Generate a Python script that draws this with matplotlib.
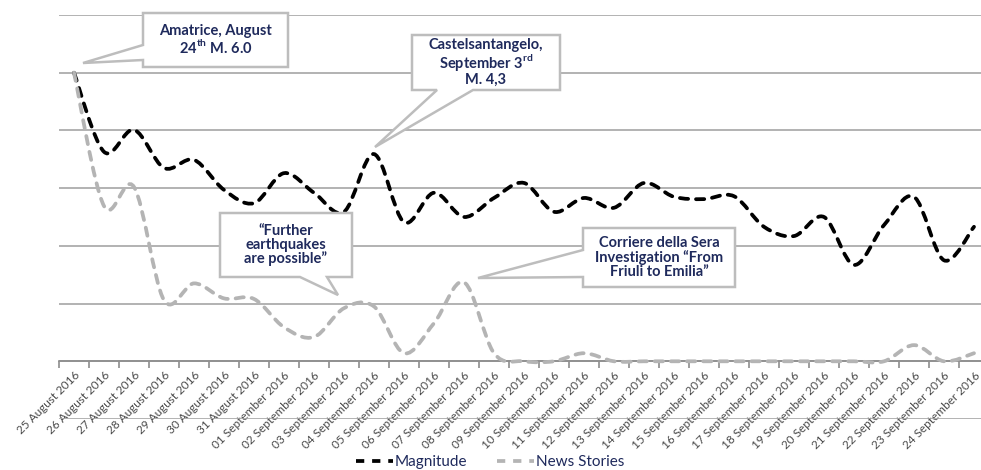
import numpy as np
import matplotlib
matplotlib.use('Agg')
import matplotlib.pyplot as plt
from matplotlib.path import Path
from matplotlib.patches import PathPatch, Polygon
from matplotlib.lines import Line2D

plt.rcParams['font.family'] = ['Lato', 'DejaVu Sans']
plt.rcParams['mathtext.fontset'] = 'custom'
plt.rcParams['mathtext.rm'] = 'Lato'
plt.rcParams['mathtext.bf'] = 'Lato:bold'

# Datos
fechas = (['%d August 2016' % d for d in range(25, 32)] +
          ['%02d September 2016' % d for d in range(1, 25)])

magnitude = [5.00, 3.63, 4.01, 3.35, 3.49, 2.97, 2.74, 3.26, 2.92, 2.59,
             3.59, 2.41, 2.92, 2.50, 2.83, 3.09, 2.59, 2.83, 2.66, 3.09,
             2.85, 2.81, 2.86, 2.33, 2.17, 2.50, 1.67, 2.36, 2.85, 1.75,
             2.33]

news = [5.00, 2.69, 3.02, 1.06, 1.35, 1.09, 1.08, 0.59, 0.42, 0.92,
        0.95, 0.14, 0.66, 1.37, 0.14, 0.00, 0.00, 0.14, 0.00, 0.00,
        0.00, 0.00, 0.00, 0.00, 0.00, 0.00, 0.00, 0.00, 0.28, 0.00,
        0.14]

W, H = 981, 470
fig = plt.figure(figsize=(W / 100, H / 100), dpi=100)
ax = fig.add_axes([59 / W, 51 / H, 930 / W, 404 / H])

n = len(fechas)
x = np.arange(n)


def suave(xs, ys):
    # curva suavizada tipo Excel (bezier con tension 1/6)
    pts = np.column_stack([xs, ys]).astype(float)
    verts = [pts[0]]
    codes = [Path.MOVETO]
    for i in range(len(pts) - 1):
        p0 = pts[i - 1] if i > 0 else pts[i]
        p1 = pts[i]
        p2 = pts[i + 1]
        p3 = pts[i + 2] if i + 2 < len(pts) else pts[i + 1]
        verts += [p1 + (p2 - p0) / 6, p2 - (p3 - p1) / 6, p2]
        codes += [Path.CURVE4] * 3
    return Path(verts, codes)


negro = '#000000'
gris = '#b4b4b4'
ls = (0, (2.2, 2.1))

ax.add_patch(PathPatch(suave(x, magnitude), fill=False, edgecolor=negro,
                       lw=2.7, linestyle=ls, capstyle='round', zorder=3))
ax.add_patch(PathPatch(suave(x, news), fill=False, edgecolor=gris,
                       lw=2.7, linestyle=ls, capstyle='round', zorder=4))

ax.set_xlim(-0.5, n - 0.5)
ax.set_ylim(-1, 6)
ax.set_yticks(np.arange(-1, 7))
ax.yaxis.grid(True, color='#a6a6a6', lw=1.2)
ax.set_axisbelow(True)
ax.tick_params(axis='y', left=False, labelleft=False)
for s in ['top', 'right', 'left']:
    ax.spines[s].set_visible(False)
ax.spines['bottom'].set_position(('data', 0))
ax.spines['bottom'].set_color('#8c8c8c')
ax.spines['bottom'].set_linewidth(1.2)

ax.set_xticks(x)
ax.set_xticklabels(fechas, rotation=45, ha='right', va='top',
                   rotation_mode='anchor', fontsize=8.5, color='#4a4a4a')
ax.set_xticks(np.arange(-0.5, n), minor=True)
ax.tick_params(axis='x', which='major', length=0, pad=6)
ax.tick_params(axis='x', which='minor', length=5, color='#8c8c8c', width=1.2)

azul = '#1f2a5c'


# Llamadas (coordenadas en pixeles de la imagen)
def px(a, b):
    return (a / W, 1 - b / H)


def llamada(caja, punta, base, lado, texto):
    L, T, R, B = caja
    if lado == 'izq':
        pts = [(L, T), (R, T), (R, B), (L, B), (L, base[1]), punta, (L, base[0])]
    else:  # abajo
        pts = [(L, T), (R, T), (R, B), (base[1], B), punta, (base[0], B), (L, B)]
    poly = Polygon([px(*p) for p in pts], closed=True, transform=fig.transFigure,
                   facecolor='white', edgecolor='#bdbdbd', lw=1.8, zorder=10)
    fig.add_artist(poly)
    fig.text((L + R) / 2 / W, 1 - (T + B) / 2 / H, texto, ha='center',
             va='center', ma='center', fontsize=10.5, fontweight='bold',
             color=azul, linespacing=1.0, zorder=11)


llamada((143, 13, 288, 67), (83, 63), (45, 60), 'izq',
        'Amatrice, August\n24$^{\\mathbf{th}}$ M. 6.0')
llamada((412, 35, 560, 90), (375, 147), (437, 473), 'abajo',
        'Castelsantangelo,\nSeptember 3$^{\\mathbf{rd}}$\nM. 4,3')
llamada((220, 213, 352, 277), (338, 295), (300, 327), 'abajo',
        '\u201cFurther\nearthquakes\nare possible\u201d')
llamada((583, 228, 735, 287), (478, 278), (250, 277), 'izq',
        'Corriere della Sera\nInvestigation \u201cFrom\nFriuli to Emilia\u201d')

handles = [Line2D([], [], color=negro, lw=2.7, linestyle=ls, solid_capstyle='round'),
           Line2D([], [], color=gris, lw=2.7, linestyle=ls, solid_capstyle='round')]
fig.legend(handles, ['Magnitude', 'News Stories'], loc='center',
           bbox_to_anchor=(490 / W, 1 - 462 / H), ncol=2, frameon=False,
           fontsize=11, handlelength=2.4, handletextpad=0.1,
           columnspacing=2.0, labelcolor=azul)

fig.savefig('out.png', dpi=100)
